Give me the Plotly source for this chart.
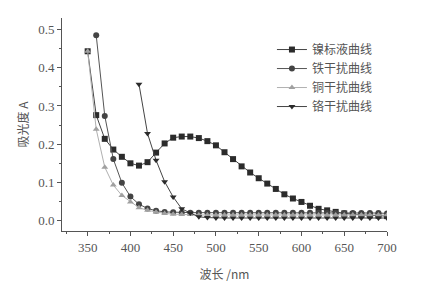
import plotly.graph_objects as go

wl_ni = list(range(350, 701, 10))
ni = [0.443, 0.276, 0.214, 0.186, 0.167, 0.150, 0.144, 0.153, 0.178, 0.202,
      0.217, 0.220, 0.220, 0.216, 0.208, 0.197, 0.179, 0.161, 0.142, 0.126,
      0.111, 0.097, 0.083, 0.069, 0.058, 0.049, 0.039, 0.031, 0.027, 0.023,
      0.019, 0.017, 0.015, 0.014, 0.013, 0.012]

wl_fe = list(range(360, 701, 10))
fe = [0.485, 0.274, 0.161, 0.099, 0.063, 0.043, 0.032, 0.026, 0.023, 0.022,
      0.021, 0.021, 0.021, 0.021, 0.021, 0.021, 0.021, 0.021, 0.021, 0.021,
      0.021, 0.021, 0.021, 0.021, 0.021, 0.021, 0.021, 0.020, 0.020, 0.020,
      0.020, 0.020, 0.020, 0.020, 0.019]

wl_cu = list(range(350, 701, 10))
cu = [0.443, 0.239, 0.140, 0.093, 0.066, 0.049, 0.034, 0.027, 0.022, 0.019,
      0.017, 0.016, 0.016, 0.015, 0.015, 0.015, 0.015, 0.015, 0.015, 0.015,
      0.015, 0.015, 0.015, 0.015, 0.015, 0.015, 0.015, 0.015, 0.015, 0.015,
      0.015, 0.015, 0.015, 0.015, 0.015, 0.015]

wl_cr = list(range(410, 701, 10))
cr = [0.357, 0.228, 0.158, 0.102, 0.062, 0.031, 0.020, 0.010, 0.008, 0.007,
      0.007, 0.007, 0.007, 0.007, 0.007, 0.007, 0.007, 0.007, 0.007, 0.007,
      0.007, 0.007, 0.007, 0.007, 0.007, 0.007, 0.007, 0.007, 0.007, 0.007]

names = ["镍标液曲线", "铁干扰曲线", "铜干扰曲线", "铬干扰曲线"]

fig = go.Figure()
series = [
    (wl_ni, ni, names[0], "square", "#2b2b2b", "#444444"),
    (wl_fe, fe, names[1], "circle", "#444444", "#555555"),
    (wl_cu, cu, names[2], "triangle-up", "#a0a0a0", "#b0b0b0"),
    (wl_cr, cr, names[3], "triangle-down", "#2b2b2b", "#444444"),
]
for x, y, n, sym, mc, lc in series:
    fig.add_trace(go.Scatter(
        x=x, y=y, name=n, mode="lines+markers",
        line=dict(color=lc, width=1),
        marker=dict(symbol=sym, size=6, color=mc),
    ))

tickfont = dict(family="Liberation Serif, serif", size=13, color="#555555")
titlefont = dict(family="Noto Sans CJK SC", size=12, color="#555555")
fig.update_layout(
    width=424, height=280,
    margin=dict(l=54, r=45, t=10, b=57),
    paper_bgcolor="white", plot_bgcolor="white",
    showlegend=True,
    legend=dict(x=0.646, y=0.92, xanchor="left", yanchor="top",
                font=dict(family="Noto Sans CJK SC", size=12, color="#555555"),
                bgcolor="rgba(0,0,0,0)", tracegroupgap=0, itemwidth=30),
    xaxis=dict(range=[320, 700], tickvals=[350, 400, 450, 500, 550, 600, 650, 700],
               ticks="outside", ticklen=4, tickcolor="#555555", tickwidth=1,
               minor=dict(dtick=25, tick0=325, ticks="outside", ticklen=2, tickcolor="#555555"),
               showline=True, linecolor="#555555", linewidth=1, showgrid=False, zeroline=False,
               tickfont=tickfont, automargin=False,
               title=dict(text="波长 /nm", font=titlefont, standoff=17)),
    yaxis=dict(range=[-0.027, 0.53], tickvals=[0.0, 0.1, 0.2, 0.3, 0.4, 0.5],
               tickformat=".1f",
               ticks="outside", ticklen=4, tickcolor="#555555", tickwidth=1,
               minor=dict(dtick=0.05, tick0=0, ticks="outside", ticklen=2, tickcolor="#555555"),
               showline=True, linecolor="#555555", linewidth=1, showgrid=False, zeroline=False,
               tickfont=tickfont, automargin=False,
               title=dict(text="吸光度 A", font=titlefont, standoff=6)),
)
fig.write_html("out.html")
